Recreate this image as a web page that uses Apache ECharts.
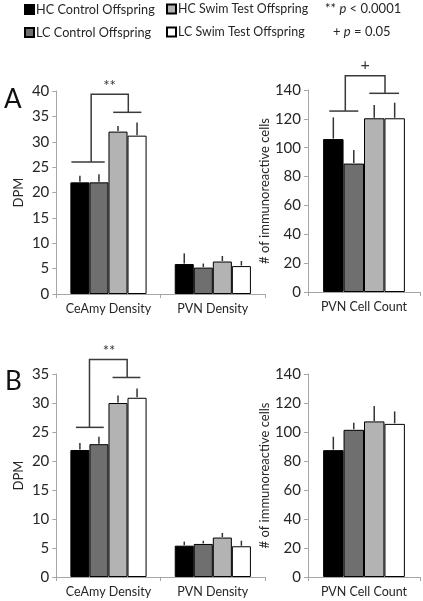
<!DOCTYPE html>
<html>
<head>
<meta charset="utf-8">
<script src="https://cdn.jsdelivr.net/npm/echarts@6/dist/echarts.min.js"></script>
<style>
html,body{margin:0;padding:0;background:#fff;}
#chart{width:423px;height:601px;}
</style>
</head>
<body>
<div id="chart"></div>
<script>
// ---------- data ----------
const groups = ['HC Control Offspring', 'LC Control Offspring', 'HC Swim Test Offspring', 'LC Swim Test Offspring'];
const densityCats = ['CeAmy Density', 'PVN Density'];
const countCats = ['PVN Cell Count'];

// Panel A – density (DPM), per group: [CeAmy, PVN]
const aDensHCCtrl = [22.0, 5.9];
const aDensLCCtrl = [22.0, 5.2];
const aDensHCSwim = [32.0, 6.4];
const aDensLCSwim = [31.2, 5.5];
const aDensErrHCCtrl = [1.3, 2.1];
const aDensErrLCCtrl = [1.6, 0.8];
const aDensErrHCSwim = [1.1, 1.1];
const aDensErrLCSwim = [2.6, 1.0];
// Panel A – PVN cell count
const aCount = [106, 89, 120.4, 120.4];
const aCountErr = [15, 9.4, 9.2, 10.8];

// Panel B – density
const bDensHCCtrl = [21.9, 5.4];
const bDensLCCtrl = [22.9, 5.7];
const bDensHCSwim = [30.0, 6.8];
const bDensLCSwim = [30.9, 5.3];
const bDensErrHCCtrl = [1.2, 0.7];
const bDensErrLCCtrl = [1.3, 0.55];
const bDensErrHCSwim = [1.3, 0.8];
const bDensErrLCSwim = [1.6, 0.95];
// Panel B – PVN cell count
const bCount = [87.5, 101.5, 107.3, 105.6];
const bCountErr = [9.2, 4.8, 10.7, 8.6];

// tick settings
const aDensAxis = {min: 0, max: 40, interval: 5};
const bDensAxis = {min: 0, max: 35, interval: 5};
const countAxis = {min: 0, max: 140, interval: 20};

// significance brackets (t = fraction across the category band, y = axis value)
const aLeftBrackets = [
  [[0.145, 26], [0.464, 26]],
  [[0.334, 26], [0.334, 39.35], [0.69, 39.35], [0.69, 35.8]],
  [[0.545, 35.8], [0.815, 35.8]]
];
const aLeftMark = {text: '**', t: 0.51, y: 41.0};
const aRightBrackets = [
  [[0.19, 125.4], [0.449, 125.4]],
  [[0.333, 125.4], [0.333, 149.9], [0.6875, 149.9], [0.6875, 137.7]],
  [[0.547, 137.7], [0.8125, 137.7]]
];
const aRightMark = {text: '+', t: 0.51, y: 157.5};
const bLeftBrackets = [
  [[0.188, 25.8], [0.455, 25.8]],
  [[0.318, 25.8], [0.318, 37.5], [0.679, 37.5], [0.679, 34.4]],
  [[0.539, 34.4], [0.806, 34.4]]
];
const bLeftMark = {text: '**', t: 0.506, y: 38.9};

// ---------- style ----------
const FONT = 'Lato';
const TXT = '#262626';
const AX = '#a6a6a6';
const colors = ['#000000', '#6f6f6f', '#b3b3b3', '#ffffff'];
const GAP = 0.27;

const chart = echarts.init(document.getElementById('chart'), null, {renderer: 'canvas'});

const grids = [
  {left: 46, top: 91, width: 219, height: 203},
  {left: 308, top: 90, width: 112, height: 202},
  {left: 46, top: 374, width: 219, height: 203},
  {left: 308, top: 374, width: 112, height: 203}
];

function xAx(gi, cats) {
  return {
    type: 'category', gridIndex: gi, data: cats,
    axisLine: {lineStyle: {color: AX, width: 1}},
    axisTick: {show: true, length: 4, lineStyle: {color: AX}, interval: 0},
    axisLabel: {color: TXT, fontFamily: FONT, fontSize: 12.5, margin: 8, interval: 0}
  };
}
function yAx(gi, rng, name) {
  return {
    type: 'value', gridIndex: gi, min: rng.min, max: rng.max, interval: rng.interval,
    name: name, nameLocation: 'middle', nameGap: 31,
    nameTextStyle: {color: TXT, fontFamily: FONT, fontSize: 13},
    axisLine: {show: true, lineStyle: {color: AX, width: 1}},
    axisTick: {show: true, length: 4, lineStyle: {color: AX}},
    splitLine: {show: false},
    axisLabel: {color: TXT, fontFamily: FONT, fontSize: 15, margin: 7}
  };
}

function bars(gi, valueArrays) {
  return valueArrays.map((vals, i) => ({
    type: 'bar', name: groups[i], xAxisIndex: gi, yAxisIndex: gi,
    data: vals, barGap: '0%', barCategoryGap: (GAP * 100) + '%',
    itemStyle: {color: colors[i], borderColor: '#000', borderWidth: 1},
    silent: true
  }));
}

function errSeries(gi, valueArrays, errArrays) {
  const data = [];
  valueArrays.forEach((vals, g) => {
    vals.forEach((v, c) => data.push([c, g, v, v + errArrays[g][c]]));
  });
  return {
    type: 'custom', xAxisIndex: gi, yAxisIndex: gi, data: data, z: 5,
    encode: {x: 0, y: 2}, silent: true,
    renderItem: function (params, api) {
      const cat = api.value(0), g = api.value(1);
      const p0 = api.coord([cat, api.value(2)]);
      const p1 = api.coord([cat, api.value(3)]);
      const band = api.size([1, 0])[0];
      const inner = band * (1 - GAP);
      const bw = inner / groups.length;
      const x = p0[0] - inner / 2 + bw * (g + 0.5);
      return {type: 'line', shape: {x1: x, y1: p0[1] - 0.5, x2: x, y2: p1[1]},
        style: {stroke: '#333', lineWidth: 1.5}};
    }
  };
}

function bracketSeries(gi, brackets, mark) {
  const data = brackets.map((b, i) => [0, i]);
  data.push([0, brackets.length]);
  return {
    type: 'custom', xAxisIndex: gi, yAxisIndex: gi, data: data, z: 6, silent: true,
    encode: {x: 0, y: 1}, clip: false,
    renderItem: function (params, api) {
      const idx = api.value(1);
      const band = api.size([1, 0])[0];
      const toPx = (t, y) => {
        const c = api.coord([0, y]);
        return [c[0] + (t - 0.5) * band, c[1]];
      };
      if (idx < brackets.length) {
        return {type: 'polyline', shape: {points: brackets[idx].map(p => toPx(p[0], p[1]))},
          style: {stroke: '#3a3a3a', lineWidth: 1.5, fill: null}};
      }
      const p = toPx(mark.t, mark.y);
      return {type: 'text', x: p[0], y: p[1],
        style: {text: mark.text, align: 'center', verticalAlign: 'middle',
          fontFamily: FONT, fontSize: mark.text === '+' ? 16 : 15, fill: '#333'}};
    }
  };
}

function legendAt(i, left, top, size) {
  return {
    data: [groups[i]], left: left, top: top, padding: 0,
    icon: 'rect', itemWidth: 9, itemHeight: 9, selectedMode: false,
    textStyle: {color: TXT, fontFamily: FONT, fontSize: size, padding: [0, 0, 0, -3]}
  };
}

const option = {
  animation: false,
  backgroundColor: '#fff',
  grid: grids,
  xAxis: [xAx(0, densityCats), xAx(1, countCats), xAx(2, densityCats), xAx(3, countCats)],
  yAxis: [
    yAx(0, aDensAxis, 'DPM'),
    yAx(1, countAxis, '# of immunoreactive cells'),
    yAx(2, bDensAxis, 'DPM'),
    yAx(3, countAxis, '# of immunoreactive cells')
  ],
  legend: [
    legendAt(0, 24, 3, 12.7),
    legendAt(2, 166, 3, 12.4),
    legendAt(1, 24, 26, 12.7),
    legendAt(3, 166, 26, 12.4)
  ],
  graphic: [
    {type: 'text', left: 325, top: 2, style: {
      text: '** {i|p} < 0.0001', fill: TXT, font: '13px ' + FONT,
      rich: {i: {fontStyle: 'italic', fontFamily: FONT, fontSize: 13, fill: TXT}}}},
    {type: 'text', left: 333, top: 25, style: {
      text: '+ {i|p} = 0.05', fill: TXT, font: '13px ' + FONT,
      rich: {i: {fontStyle: 'italic', fontFamily: FONT, fontSize: 13, fill: TXT}}}},
    {type: 'text', left: 4, top: 87, style: {text: 'A', fill: '#111', font: '26px ' + FONT}},
    {type: 'text', left: 5, top: 369, style: {text: 'B', fill: '#111', font: '26px ' + FONT}}
  ],
  series: [].concat(
    bars(0, [aDensHCCtrl, aDensLCCtrl, aDensHCSwim, aDensLCSwim]),
    [errSeries(0, [aDensHCCtrl, aDensLCCtrl, aDensHCSwim, aDensLCSwim],
      [aDensErrHCCtrl, aDensErrLCCtrl, aDensErrHCSwim, aDensErrLCSwim])],
    [bracketSeries(0, aLeftBrackets, aLeftMark)],
    bars(1, aCount.map(v => [v])),
    [errSeries(1, aCount.map(v => [v]), aCountErr.map(v => [v]))],
    [bracketSeries(1, aRightBrackets, aRightMark)],
    bars(2, [bDensHCCtrl, bDensLCCtrl, bDensHCSwim, bDensLCSwim]),
    [errSeries(2, [bDensHCCtrl, bDensLCCtrl, bDensHCSwim, bDensLCSwim],
      [bDensErrHCCtrl, bDensErrLCCtrl, bDensErrHCSwim, bDensErrLCSwim])],
    [bracketSeries(2, bLeftBrackets, bLeftMark)],
    bars(3, bCount.map(v => [v])),
    [errSeries(3, bCount.map(v => [v]), bCountErr.map(v => [v]))]
  )
};
chart.setOption(option);
</script>
</body>
</html>
